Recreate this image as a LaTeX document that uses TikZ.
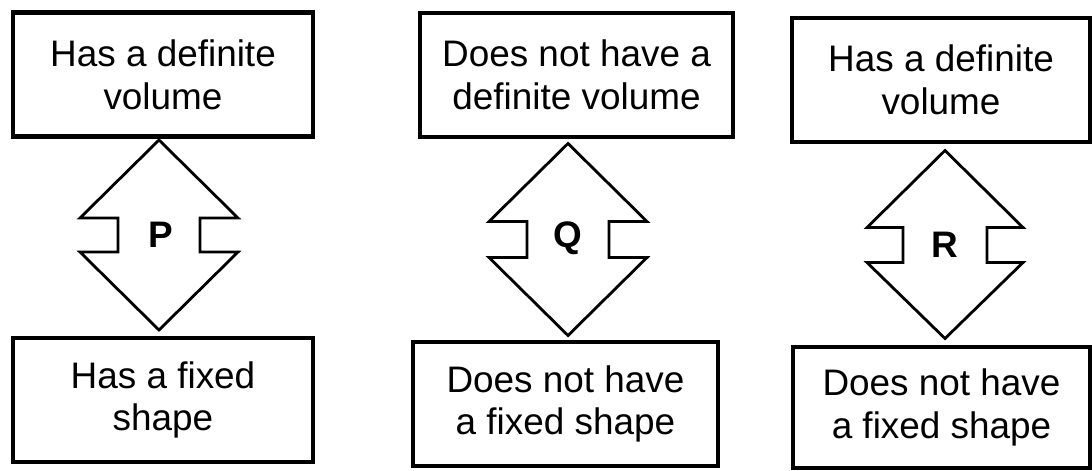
\documentclass[tikz,border=0pt]{standalone}
\usepackage{fontspec}
\setmainfont{Liberation Sans}
\tikzset{
  sm diagram/.style={font=\fontsize{10.5}{12.2}\selectfont, text=black,
    line join=miter},
  sm box/.style={draw=black, fill=white, line width=1.4pt,
    align=center, minimum width=3cm, minimum height=1.24cm, inner sep=2pt},
  sm letter/.style={font=\fontsize{10.5}{12}\selectfont\bfseries, inner sep=1pt},
  sm arrow/.style={draw=black, line width=0.8pt}
}
\begin{document}
\begin{tikzpicture}[sm diagram]
\useasboundingbox (0,0) rectangle (10.92,4.70);
% solid
\node[sm box] (pvol) at (1.63,3.955) {Has a definite\\volume};
\node[sm box] (pshape) at (1.63,0.70) {Has a fixed\\shape};
\node[sm letter] (p) at (1.61,2.35) {P};
\draw[sm arrow] (p.center) ++(-0.02,0.95) -- ++(-0.79,-0.78) -- ++(0.38,0)
  -- ++(0,-0.34) -- ++(-0.38,0) -- ++(0.79,-0.78) -- ++(0.79,0.78)
  -- ++(-0.38,0) -- ++(0,0.34) -- ++(0.38,0) -- cycle;
% gas
\node[sm box,minimum width=3.13cm] (qvol) at (5.765,3.95) {Does not have a\\definite volume};
\node[sm box,minimum width=3.05cm] (qshape) at (5.655,0.66) {Does not have\\a fixed shape};
\node[sm letter] (q) at (5.68,2.315) {Q};
\draw[sm arrow] (q.center) ++(0,0.95) -- ++(-0.79,-0.78) -- ++(0.38,0)
  -- ++(0,-0.36) -- ++(-0.38,0) -- ++(0.79,-0.78) -- ++(0.79,0.78)
  -- ++(-0.38,0) -- ++(0,0.36) -- ++(0.38,0) -- cycle;
% liquid
\node[sm box,minimum width=2.98cm] (rvol) at (9.41,3.90) {Has a definite\\volume};
\node[sm box,minimum width=2.97cm,minimum height=1.21cm] (rshape) at (9.415,0.625) {Does not have\\a fixed shape};
\node[sm letter] (r) at (9.45,2.255) {R};
\draw[sm arrow] (r.center) ++(0,0.94) -- ++(-0.78,-0.77) -- ++(0.36,0)
  -- ++(0,-0.35) -- ++(-0.36,0) -- ++(0.78,-0.76) -- ++(0.78,0.76)
  -- ++(-0.36,0) -- ++(0,0.35) -- ++(0.36,0) -- cycle;
\end{tikzpicture}
\end{document}
